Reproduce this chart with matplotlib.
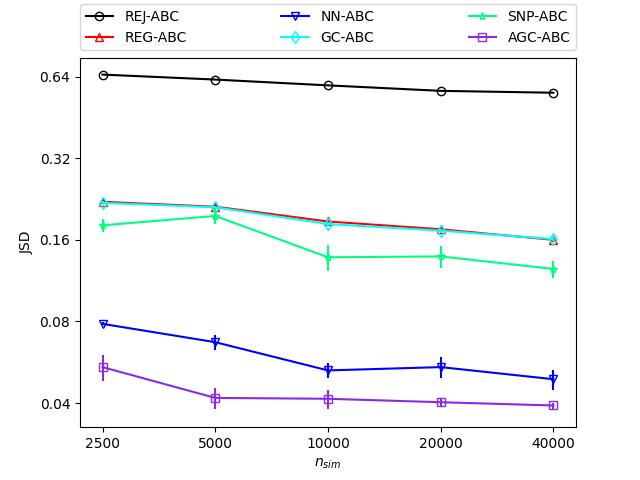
import numpy as np
import matplotlib
matplotlib.use('Agg')
import matplotlib.pyplot as plt
from matplotlib.ticker import NullLocator

# n_sim values
n_sim = [2500, 5000, 10000, 20000, 40000]

# JSD per method (mean, error)
rej = [0.651, 0.624, 0.594, 0.567, 0.558]
rej_err = [0.003, 0.003, 0.003, 0.003, 0.003]
reg = [0.221, 0.212, 0.187, 0.175, 0.160]
reg_err = [0.003, 0.003, 0.003, 0.003, 0.003]
nn = [0.0784, 0.0671, 0.0528, 0.0543, 0.0490]
nn_err = [0.0010, 0.0045, 0.0032, 0.0050, 0.0041]
gc = [0.219, 0.211, 0.183, 0.173, 0.161]
gc_err = [0.003, 0.003, 0.003, 0.003, 0.003]
snp = [0.181, 0.196, 0.138, 0.139, 0.125]
snp_err = [0.010, 0.013, 0.015, 0.013, 0.009]
agc = [0.0543, 0.0418, 0.0415, 0.0403, 0.0392]
agc_err = [0.0061, 0.0036, 0.0034, 0.0012, 0.0010]

yticks = [0.04, 0.08, 0.16, 0.32, 0.64]

series = [
    ('REJ-ABC', rej, rej_err, 'black', 'o'),
    ('REG-ABC', reg, reg_err, 'red', '^'),
    ('NN-ABC', nn, nn_err, 'blue', 'v'),
    ('GC-ABC', gc, gc_err, 'cyan', 'd'),
    ('SNP-ABC', snp, snp_err, 'springgreen', '*'),
    ('AGC-ABC', agc, agc_err, 'blueviolet', 's'),
]

fig, ax = plt.subplots(figsize=(6.4, 4.8), dpi=100)

for nome, y, e, cor, m in series:
    ax.plot(n_sim, y, color=cor, marker=m, mfc='none', label=nome)
    ax.errorbar(n_sim, y, yerr=e, color=cor, fmt='none')

ax.set_xscale('log', base=2)
ax.set_yscale('log', base=2)
ax.set_ylim(0.0326, 0.752)
ax.set_xticks(n_sim)
ax.set_xticklabels([str(v) for v in n_sim])
ax.xaxis.set_minor_locator(NullLocator())
ax.set_yticks(yticks)
ax.set_yticklabels([str(v) for v in yticks])
ax.yaxis.set_minor_locator(NullLocator())

ax.set_xlabel('$n_{sim}$')
ax.set_ylabel('JSD')

ax.legend(loc='lower left', bbox_to_anchor=(0, 1.02, 1, 0.2), mode='expand', ncol=3, borderaxespad=0)

plt.savefig('out.png')
